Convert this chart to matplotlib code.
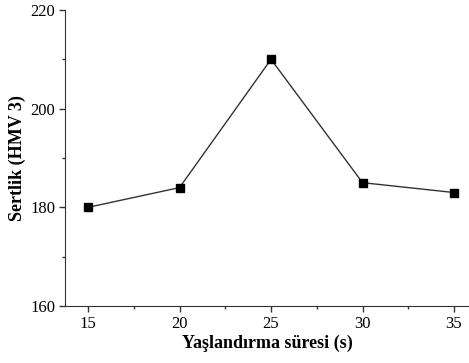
import matplotlib.pyplot as plt
from matplotlib.ticker import MultipleLocator

plt.rcParams['font.family'] = ['Liberation Serif', 'DejaVu Serif']

sure = [15, 20, 25, 30, 35]
sertlik = [180, 184, 210, 185, 183]

fig = plt.figure(figsize=(4.69, 3.63), dpi=100)
ax = fig.add_axes([0.1386, 0.157, 0.8614, 0.8155])
ax.plot(sure, sertlik, color='#333333', lw=1.0, marker='s', ms=5.5,
        mfc='black', mec='black')
ax.set_xlim(13.74, 35.82)
ax.set_ylim(160, 220)
ax.xaxis.set_major_locator(MultipleLocator(5))
ax.xaxis.set_minor_locator(MultipleLocator(2.5))
ax.yaxis.set_major_locator(MultipleLocator(20))
ax.yaxis.set_minor_locator(MultipleLocator(10))
ax.spines['top'].set_visible(False)
ax.spines['right'].set_visible(False)
for s in ['left', 'bottom']:
    ax.spines[s].set_color('#333333')
ax.tick_params(which='major', length=4, width=1, labelsize=12, color='#333333', pad=3)
ax.tick_params(which='minor', length=2.5, width=1, color='#333333')
ax.set_xlabel('Yaşlandırma süresi (s)', fontsize=13, fontweight='bold', labelpad=2)
ax.set_ylabel('Sertlik (HMV 3)', fontsize=13, fontweight='bold', labelpad=3)
fig.savefig('out.png', dpi=100)
